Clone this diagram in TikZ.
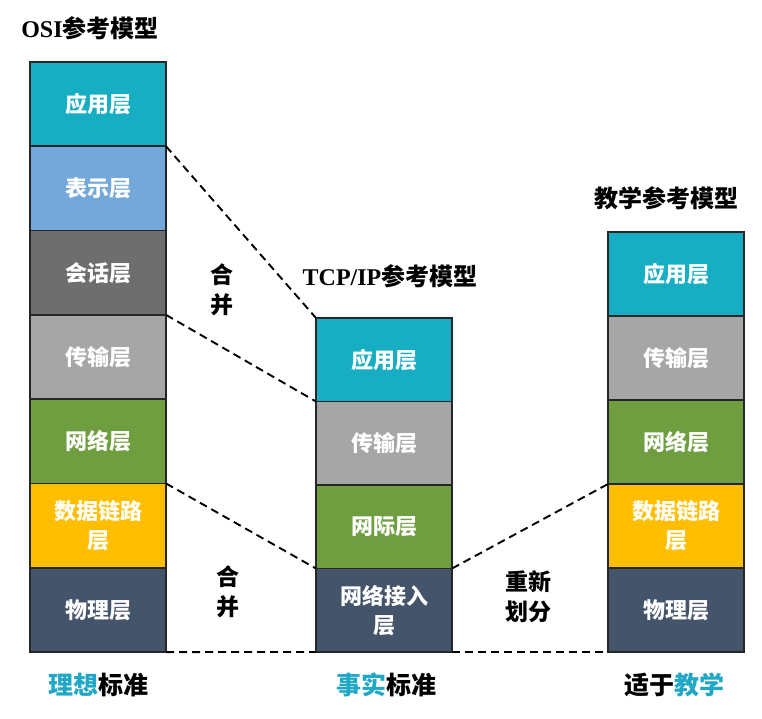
\documentclass[tikz,border=0pt]{standalone}
\usepackage{fontspec}
\setmainfont{Noto Sans CJK SC}
\newfontfamily\latinserif{Liberation Serif}
\usetikzlibrary{positioning}

\definecolor{appcol}{HTML}{17AEC4}
\definecolor{prescol}{HTML}{74A8DA}
\definecolor{sesscol}{HTML}{6E6E6E}
\definecolor{transcol}{HTML}{A6A6A6}
\definecolor{netcol}{HTML}{6E9E40}
\definecolor{linkcol}{HTML}{FFBE00}
\definecolor{physcol}{HTML}{44546A}
\definecolor{hicol}{HTML}{20A7C6}

\tikzset{
  layer/.style={draw=black!85, line width=1.6pt, minimum width=136pt,
    minimum height=84pt, inner sep=0pt, outer sep=0pt, text=white,
    font=\fontsize{22}{29}\selectfont\bfseries, align=center},
  mapline/.style={line width=1.9pt, dash pattern=on 8pt off 5pt},
  modeltitle/.style={font=\fontsize{24}{28}\selectfont\bfseries},
  note/.style={font=\fontsize{23}{30}\selectfont\bfseries, align=center},
  footer/.style={font=\fontsize{25}{29}\selectfont\bfseries},
}

\begin{document}
\begin{tikzpicture}[x=1pt, y=-1pt]
    \useasboundingbox (0,0) rectangle (762,718);
    % OSI model
    \node[modeltitle] (osititle) at (90,28) {{\latinserif OSI}参考模型};
    \node[layer, fill=appcol, minimum height=84.3pt] (osi1) at (98,104.1) {应用层};
    \node[layer, fill=prescol, minimum height=84.3pt, below=0pt of osi1] (osi2) {表示层};
    \node[layer, fill=sesscol, minimum height=84.3pt, below=0pt of osi2] (osi3) {会话层};
    \node[layer, fill=transcol, minimum height=84.3pt, below=0pt of osi3] (osi4) {传输层};
    \node[layer, fill=netcol, minimum height=84.3pt, below=0pt of osi4] (osi5) {网络层};
    \node[layer, fill=linkcol, minimum height=84.3pt, below=0pt of osi5] (osi6) {数据链路\\层};
    \node[layer, fill=physcol, minimum height=84.3pt, below=0pt of osi6] (osi7) {物理层};
    % TCP/IP model
    \node[modeltitle] (tcptitle) at (390,276) {{\latinserif TCP/IP}参考模型};
    \node[layer, fill=appcol, minimum height=83.5pt] (tcp1) at (384,359.75) {应用层};
    \node[layer, fill=transcol, minimum height=83.5pt, below=0pt of tcp1] (tcp2) {传输层};
    \node[layer, fill=netcol, minimum height=83.5pt, below=0pt of tcp2] (tcp3) {网际层};
    \node[layer, fill=physcol, minimum height=83.5pt, below=0pt of tcp3] (tcp4) {网络接入\\层};
    % teaching model
    \node[modeltitle] (edutitle) at (666,198) {教学参考模型};
    \node[layer, fill=appcol] (edu1) at (676,274) {应用层};
    \node[layer, fill=transcol, below=0pt of edu1] (edu2) {传输层};
    \node[layer, fill=netcol, below=0pt of edu2] (edu3) {网络层};
    \node[layer, fill=linkcol, below=0pt of edu3] (edu4) {数据链路\\层};
    \node[layer, fill=physcol, below=0pt of edu4] (edu5) {物理层};
    % mapping lines
    \draw[mapline] (osi1.south east) -- (tcp1.north west);
    \draw[mapline] (osi4.north east) -- (tcp2.north west);
    \draw[mapline] (osi6.north east) -- (tcp4.north west);
    \draw[mapline] (osi7.south east) -- (tcp4.south west);
    \draw[mapline] (tcp4.north east) -- (edu4.north west);
    \draw[mapline] (tcp4.south east) -- (edu5.south west);
    % notes
    \node[note] (merge1) at (222,290) {合\\并};
    \node[note] (merge2) at (228,592) {合\\并};
    \node[note] (split) at (528,597) {重新\\划分};
    % footers
    \node[footer] (osifoot) at (98,685) {\textcolor{hicol}{理想}标准};
    \node[footer] (tcpfoot) at (386,685) {\textcolor{hicol}{事实}标准};
    \node[footer] (edufoot) at (674,685) {适于\textcolor{hicol}{教学}};
\end{tikzpicture}
\end{document}
